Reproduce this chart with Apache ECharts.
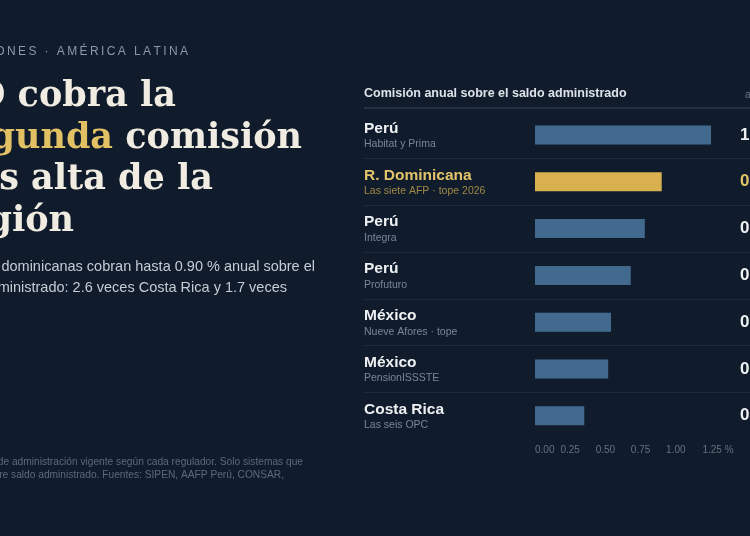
<!DOCTYPE html>
<html>
<head>
<meta charset="utf-8">
<script src="https://cdn.jsdelivr.net/npm/echarts@6.0.0/dist/echarts.min.js"></script>
<style>
  html, body { margin: 0; padding: 0; background: #101c2c; }
  #main { width: 750px; height: 536px; }
</style>
</head>
<body>
<div id="main"></div>
<script>
// data
var countries = ['Perú', 'R. Dominicana', 'Perú', 'Perú', 'México', 'México', 'Costa Rica'];
var funds = ['Habitat y Prima', 'Las siete AFP · tope 2026', 'Integra', 'Profuturo', 'Nueve Afores · tope', 'PensionISSSTE', 'Las seis OPC'];
var fees = [1.25, 0.90, 0.78, 0.68, 0.54, 0.52, 0.35];
var highlight = 1; // R. Dominicana

var bg = '#101c2c';
var blue = '#426a8f';
var gold = '#d8b050';
var goldText = '#e3c36a';
var sans = '"Liberation Sans", Arial, sans-serif';
var serif = '"DejaVu Serif", serif';

// letter-spaced eyebrow
function spaced(s) { return s.split('').join('\u2009'); }

var chart = echarts.init(document.getElementById('main'), null, { renderer: 'canvas' });

var barData = fees.map(function (v, i) {
  return { value: v, itemStyle: { color: i === highlight ? gold : blue } };
});

var option = {
  backgroundColor: bg,
  animation: false,
  grid: [
    { left: 535, right: 39, top: 111.6, height: 327.6, outerBoundsMode: 'none', containLabel: false },
    { left: 364, right: 0, top: 111.6, height: 327.6, outerBoundsMode: 'none', containLabel: false }
  ],
  xAxis: [
    {
      type: 'value', gridIndex: 0, min: 0, max: 1.25, interval: 0.25,
      axisLine: { show: false }, axisTick: { show: false }, splitLine: { show: false },
      axisLabel: {
        color: '#66717f', fontSize: 10, fontFamily: sans, margin: 6,
        showMinLabel: true, showMaxLabel: true, hideOverlap: false,
        alignMinLabel: 'left',
        formatter: function (v) {
          if (Math.abs(v - 1.25) < 1e-6) return '{last|1.25 %}';
          return v.toFixed(2);
        },
        rich: { last: { color: '#66717f', fontSize: 10, fontFamily: sans, padding: [0, 0, 0, 14] } }
      }
    },
    { type: 'value', gridIndex: 1, show: false, min: 0, max: 1 }
  ],
  yAxis: [
    {
      type: 'category', gridIndex: 0, inverse: true, data: funds,
      axisLine: { show: false }, axisTick: { show: false }, splitLine: { show: false },
      axisLabel: {
        margin: 171, align: 'left',
        formatter: function (v, i) {
          var k = i === highlight ? 'h' : '';
          return '{n' + k + '|' + countries[i] + '}\n{s' + k + '|' + funds[i] + '}';
        },
        rich: {
          n: { color: '#eef0f2', fontSize: 15.5, fontWeight: 'bold', fontFamily: sans, lineHeight: 19 },
          s: { color: '#7a8695', fontSize: 10.5, fontFamily: sans, lineHeight: 13 },
          nh: { color: goldText, fontSize: 15.5, fontWeight: 'bold', fontFamily: sans, lineHeight: 19 },
          sh: { color: '#a08745', fontSize: 10.5, fontFamily: sans, lineHeight: 13 }
        }
      }
    },
    {
      type: 'category', gridIndex: 0, inverse: true, position: 'right', data: funds,
      axisLine: { show: false }, axisTick: { show: false }, splitLine: { show: false },
      axisLabel: {
        margin: 29, align: 'left',
        formatter: function (v, i) {
          return (i === highlight ? '{h|' : '{v|') + fees[i].toFixed(2) + ' %}';
        },
        rich: {
          v: { color: '#eef0f2', fontSize: 17, fontWeight: 'bold', fontFamily: sans },
          h: { color: goldText, fontSize: 17, fontWeight: 'bold', fontFamily: sans }
        }
      }
    },
    {
      type: 'category', gridIndex: 1, inverse: true, data: funds,
      axisLine: { show: false }, axisTick: { show: false }, axisLabel: { show: false },
      splitLine: { show: true, showMinLine: false, showMaxLine: false, lineStyle: { color: '#1d2a3a', width: 1 } }
    }
  ],
  series: [
    {
      type: 'bar', xAxisIndex: 0, yAxisIndex: 0, data: barData,
      barWidth: 19, silent: true
    }
  ],
  graphic: [
    // eyebrow
    { type: 'text', x: 188, y: 52, style: { text: spaced('PENSIONES · AMÉRICA LATINA'), fill: '#8c98a7', fontSize: 12, fontFamily: sans, align: 'right', verticalAlign: 'middle' } },
    // title
    { type: 'text', x: 176, y: 97, style: { text: 'RD cobra la', fill: '#f1ece2', fontSize: 35, fontWeight: 'bold', fontFamily: serif, align: 'right', verticalAlign: 'middle' } },
    { type: 'text', x: 302, y: 138.5, style: { text: '{g|segunda} comisión', fill: '#f1ece2', fontSize: 35, fontWeight: 'bold', fontFamily: serif, align: 'right', verticalAlign: 'middle',
        rich: { g: { fill: '#e2c064', fontSize: 35, fontWeight: 'bold', fontFamily: serif } } } },
    { type: 'text', x: 213, y: 180, style: { text: 'más alta de la', fill: '#f1ece2', fontSize: 35, fontWeight: 'bold', fontFamily: serif, align: 'right', verticalAlign: 'middle' } },
    { type: 'text', x: 74, y: 221.5, style: { text: 'región', fill: '#f1ece2', fontSize: 35, fontWeight: 'bold', fontFamily: serif, align: 'right', verticalAlign: 'middle' } },
    // subtitle
    { type: 'text', x: 315, y: 267, style: { text: 'Las AFP dominicanas cobran hasta 0.90 % anual sobre el', fill: '#c5ccd4', fontSize: 14.5, fontFamily: sans, align: 'right', verticalAlign: 'middle' } },
    { type: 'text', x: 287, y: 288, style: { text: 'saldo administrado: 2.6 veces Costa Rica y 1.7 veces', fill: '#c5ccd4', fontSize: 14.5, fontFamily: sans, align: 'right', verticalAlign: 'middle' } },
    // footnote
    { type: 'text', x: 303, y: 462, style: { text: 'Comisión de administración vigente según cada regulador. Solo sistemas que', fill: '#5d6979', fontSize: 10.2, fontFamily: sans, align: 'right', verticalAlign: 'middle' } },
    { type: 'text', x: 284, y: 475.5, style: { text: 'cobran sobre saldo administrado. Fuentes: SIPEN, AAFP Perú, CONSAR,', fill: '#5d6979', fontSize: 10.2, fontFamily: sans, align: 'right', verticalAlign: 'middle' } },
    // chart header
    { type: 'text', x: 364, y: 94, style: { text: 'Comisión anual sobre el saldo administrado', fill: '#dde2e8', fontSize: 12.5, fontWeight: 'bold', fontFamily: sans, align: 'left', verticalAlign: 'middle' } },
    { type: 'text', x: 745, y: 95, style: { text: 'anual', fill: '#6b7684', fontSize: 10, fontFamily: sans, align: 'left', verticalAlign: 'middle' } },
    { type: 'line', shape: { x1: 364, y1: 108, x2: 750, y2: 108 }, style: { stroke: '#2a3848', lineWidth: 1.5 } }
  ]
};

chart.setOption(option);
</script>
</body>
</html>
